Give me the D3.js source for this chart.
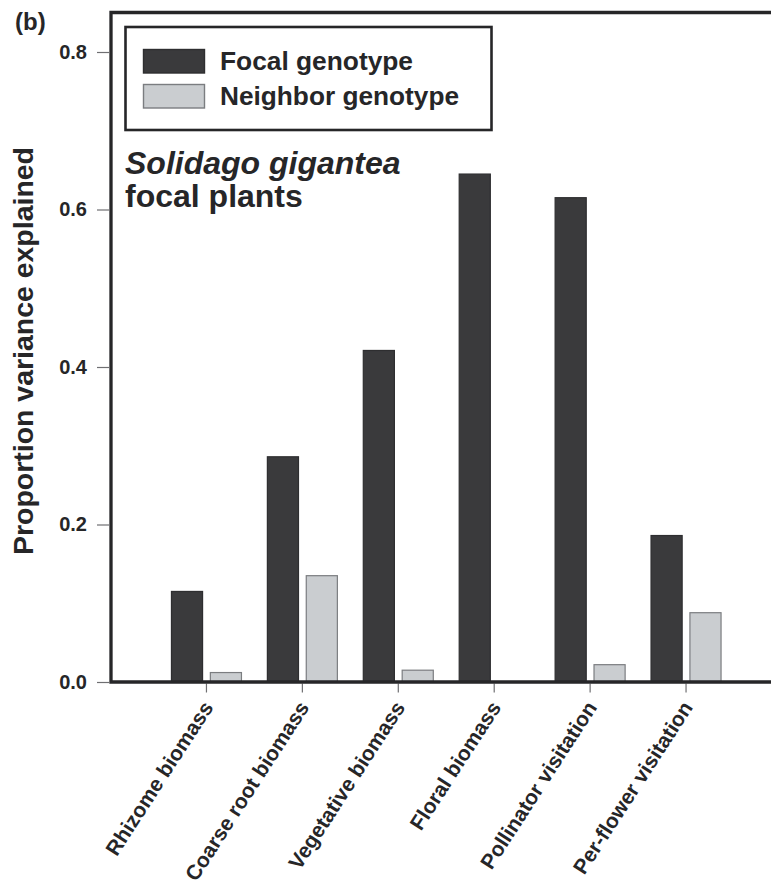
<!DOCTYPE html>
<html>
<head>
<meta charset="utf-8">
<script src="https://cdn.jsdelivr.net/npm/d3@7"></script>
<style>
  html, body { margin: 0; padding: 0; background: #fff; }
  svg { display: block; font-family: "Liberation Sans", Arial, Helvetica, sans-serif; }
</style>
</head>
<body>
<svg id="chart" width="771" height="890"></svg>
<script>
// Trait categories along the x axis
const categories = [
  "Rhizome biomass",
  "Coarse root biomass",
  "Vegetative biomass",
  "Floral biomass",
  "Pollinator visitation",
  "Per-flower visitation"
];
// Proportion of variance explained by each genotype source
const focalValues    = [0.115, 0.286, 0.421, 0.645, 0.615, 0.186];
const neighborValues = [0.012, 0.135, 0.015, 0.000, 0.022, 0.088];
const seriesNames = ["Focal genotype", "Neighbor genotype"];
const yTicks = [0.0, 0.2, 0.4, 0.6, 0.8];

const seriesFill   = ["#3a3a3c", "#cacdd0"];
const seriesStroke = ["#2e2e30", "#7b7d80"];
const ink = "#262628";

const svg = d3.select("#chart");

const plotLeft = 111, plotRight = 771, plotTop = 12.5, plotBottom = 682;

const y = d3.scaleLinear().domain([0, 0.8]).range([plotBottom, 52]);
const x = d3.scaleBand().domain(categories).range([158.5, 734]).padding(0);
const xInner = d3.scaleBand().domain([0, 1]).range([-35, 35]).paddingInner(0.2);

// Y axis: outward ticks with bold labels
const yAxis = d3.axisLeft(y)
  .tickValues(yTicks)
  .tickFormat(d3.format(".1f"))
  .tickSize(12)
  .tickPadding(10);
const gy = svg.append("g")
  .attr("transform", `translate(${plotLeft - 2},0)`)
  .call(yAxis);
gy.select(".domain").remove();
gy.selectAll(".tick line").attr("stroke", "#6f6f72").attr("stroke-width", 1.2);
gy.selectAll(".tick text")
  .attr("fill", ink)
  .attr("font-size", 20)
  .attr("font-weight", "bold")
  .attr("font-family", "Liberation Sans, Arial, sans-serif");

// X axis: ticks at category centres, rotated labels
const xAxis = d3.axisBottom(x).tickSize(9).tickPadding(0);
const gx = svg.append("g")
  .attr("transform", `translate(0,${plotBottom + 1.5})`)
  .call(xAxis);
gx.select(".domain").remove();
gx.selectAll(".tick line").attr("stroke", "#6f6f72").attr("stroke-width", 1.2);
gx.selectAll(".tick text")
  .attr("fill", ink)
  .attr("font-size", 21)
  .attr("font-weight", "bold")
  .attr("font-family", "Liberation Sans, Arial, sans-serif")
  .attr("text-anchor", "end")
  .attr("dy", 0)
  .attr("transform", "translate(0,19) rotate(-57)");

// Bars
const rows = categories.map((c, i) => ({ cat: c, vals: [focalValues[i], neighborValues[i]] }));
const groups = svg.append("g").selectAll("g")
  .data(rows)
  .join("g")
  .attr("transform", d => `translate(${x(d.cat) + x.bandwidth() / 2},0)`);
groups.selectAll("rect")
  .data(d => d.vals.map((v, k) => ({ v, k })).filter(e => e.v > 0))
  .join("rect")
  .attr("x", e => xInner(e.k))
  .attr("width", xInner.bandwidth())
  .attr("y", e => y(e.v))
  .attr("height", e => y(0) - y(e.v))
  .attr("fill", e => seriesFill[e.k])
  .attr("stroke", e => seriesStroke[e.k])
  .attr("stroke-width", 1.2);

// Frame: left axis, top line, bottom axis
const frame = svg.append("g").attr("stroke", ink).attr("stroke-width", 3.3).attr("fill", "none");
frame.append("path")
  .attr("d", `M${plotRight},${plotTop} H${plotLeft} V${plotBottom} H${plotRight}`)
  .attr("stroke-linejoin", "miter");

// Legend
const legend = svg.append("g");
legend.append("rect")
  .attr("x", 125.5).attr("y", 27).attr("width", 366).attr("height", 103)
  .attr("fill", "#fff").attr("stroke", ink).attr("stroke-width", 2.6);
const legendRowsY = [49.5, 84.5];
seriesNames.forEach((name, k) => {
  legend.append("rect")
    .attr("x", 143.5).attr("y", legendRowsY[k])
    .attr("width", 61).attr("height", 23.5)
    .attr("fill", seriesFill[k]).attr("stroke", seriesStroke[k]).attr("stroke-width", 1.4);
  legend.append("text")
    .attr("x", 220).attr("y", legendRowsY[k] + 20.5)
    .attr("font-size", 25).attr("font-weight", "bold").attr("fill", ink)
    .attr("textLength", k === 0 ? 193 : 239).attr("lengthAdjust", "spacingAndGlyphs")
    .text(name);
});

// Species annotation
const note = svg.append("g").attr("fill", ink).attr("font-weight", "bold").attr("font-size", 32);
note.append("text").attr("x", 125).attr("y", 174).attr("font-style", "italic").text("Solidago gigantea");
note.append("text").attr("x", 125).attr("y", 207).text("focal plants");

// Y axis title
svg.append("text")
  .attr("transform", "translate(33,351) rotate(-90)")
  .attr("text-anchor", "middle")
  .attr("font-size", 27).attr("font-weight", "bold").attr("fill", ink)
  .attr("textLength", 408).attr("lengthAdjust", "spacingAndGlyphs")
  .text("Proportion variance explained");

// Panel label
svg.append("text")
  .attr("x", 15).attr("y", 30)
  .attr("font-size", 24).attr("font-weight", "bold").attr("fill", ink)
  .text("(b)");
</script>
</body>
</html>
